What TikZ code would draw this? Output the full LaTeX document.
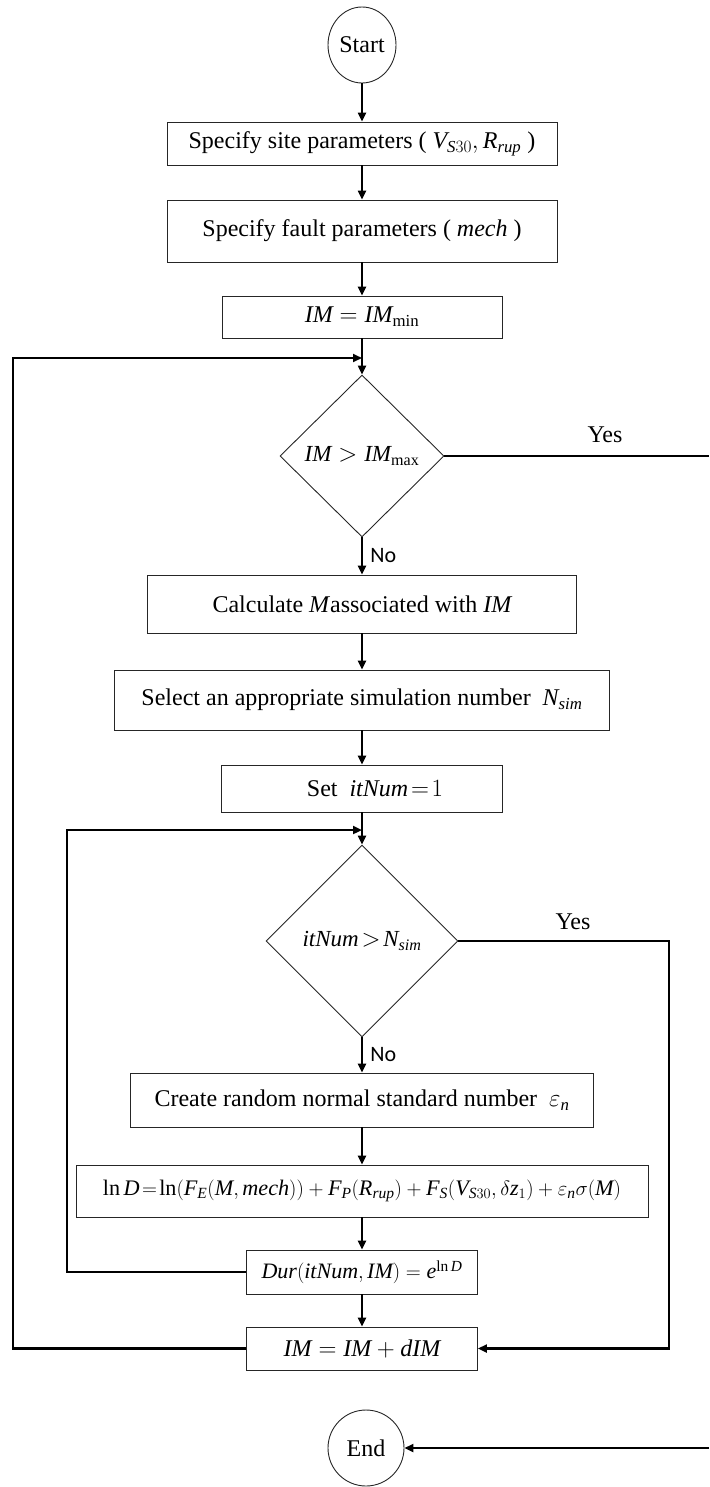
\documentclass[tikz,border=0pt]{standalone}
\usepackage{fontspec}
\setmainfont{Liberation Serif}
\newfontfamily\nofont{Carlito}
\usetikzlibrary{shapes.geometric,arrows.meta}
\begin{document}
\begin{tikzpicture}[x=1pt,y=-1pt,
  box/.style={draw=black!85, line width=0.9pt, inner sep=0pt, font=\fontsize{24}{27}\selectfont},
  dia/.style={diamond, draw=black!85, line width=0.9pt, inner sep=0pt, font=\fontsize{23}{26}\selectfont},
  term/.style={ellipse, draw=black!85, line width=0.9pt, inner sep=0pt, font=\fontsize{24}{27}\selectfont},
  conn/.style={line width=2.2pt},
  arr/.style={conn, -{Triangle[length=9pt,width=8pt]}},
  lbl/.style={font=\fontsize{24}{27}\selectfont},
  nolbl/.style={font=\nofont\fontsize{22}{24}\selectfont, right=4pt}
]
\useasboundingbox (0,0) rectangle (709,1487);
\node[term, minimum width=68pt, minimum height=76pt] (start) at (362,45) {Start};
\node[box, minimum width=390pt, minimum height=43pt] (site) at (362,143.5) {Specify site parameters ( $\mathit{V}_{\mathit{S}30},\mathit{R}_{\mathit{rup}}$ )};
\node[box, minimum width=390pt, minimum height=62pt] (fault) at (362,231) {Specify fault parameters ( $\mathit{mech}$ )};
\node[box, minimum width=280pt, minimum height=42pt] (imin) at (362,317) {$\mathit{IM} = \mathit{IM}_{\mathrm{min}}$};
\node[dia, minimum width=164pt, minimum height=162pt] (d1) at (362,456) {$\mathit{IM} > \mathit{IM}_{\mathrm{max}}$};
\node[box, minimum width=429pt, minimum height=58pt] (calc) at (362,604) {Calculate $\mathit{M}$\hspace{1pt}associated with $\mathit{IM}$};
\node[box, minimum width=495pt, minimum height=60pt] (sel) at (362,700) {Select an appropriate simulation number \ $\mathit{N}_{\mathit{sim}}$};
\node[box, minimum width=281pt, minimum height=47pt] (set) at (362,788.5) {\hspace{26pt}Set \ $\mathit{itNum}\!=\!1$};
\node[dia, minimum width=192pt, minimum height=192pt] (d2) at (362,941) {$\mathit{itNum}\!>\!\mathit{N}_{\mathit{sim}}$};
\node[box, minimum width=463pt, minimum height=54pt] (create) at (362,1100) {Create random normal standard number \ $\varepsilon_{\mathit{n}}$};
\node[box, minimum width=572pt, minimum height=52pt, font=\fontsize{22.2}{25}\selectfont] (lnd) at (362,1191) {$\ln \mathit{D}\!=\!\ln\Bigl(\mathit{F}_{\mathit{E}}\bigl(\mathit{M},\mathit{mech}\bigr)\Bigr)+\mathit{F}_{\mathit{P}}\bigl(\mathit{R}_{\mathit{rup}}\bigr)+\mathit{F}_{\mathit{S}}\bigl(\mathit{V}_{\mathit{S}30},\delta \mathit{z}_{1}\bigr)+\varepsilon_{\mathit{n}}\sigma\bigl(\mathit{M}\bigr)$};
\node[box, minimum width=231pt, minimum height=44pt, font=\fontsize{22}{25}\selectfont] (dur) at (362,1272) {$\mathit{Dur}\bigl(\mathit{itNum},\mathit{IM}\bigr)=\mathit{e}^{\ln \mathit{D}}$};
\node[box, minimum width=231pt, minimum height=43pt] (imd) at (362,1348.5) {$\mathit{IM}=\mathit{IM}+\mathit{dIM}$};
\node[term, minimum width=76pt, minimum height=76pt] (end) at (366,1448) {End};
\node[lbl] (yes1) at (605,435) {Yes};
\node[lbl] (yes2) at (573,922) {Yes};
\coordinate (r1) at (709,456);
\coordinate (r2) at (669,941);
\coordinate (r3) at (709,1448);
\coordinate (l1) at (13,358);
\coordinate (j1) at (362,358);
\coordinate (l2) at (67,830);
\coordinate (j2) at (362,830);
\draw[arr] (start) -- (site);
\draw[arr] (site) -- (fault);
\draw[arr] (fault) -- (imin);
\draw[arr] (imin) -- (d1);
\draw[arr] (d1) -- node[nolbl] (no1) {No} (calc);
\draw[arr] (calc) -- (sel);
\draw[arr] (sel) -- (set);
\draw[arr] (set) -- (d2);
\draw[arr] (d2) -- node[nolbl] (no2) {No} (create);
\draw[arr] (create) -- (lnd);
\draw[arr] (lnd) -- (dur);
\draw[arr] (dur) -- (imd);
\draw[conn] (d1.east) -- (r1);
\draw[arr] (d2.east) -- (r2) |- (imd.east);
\draw[arr] (imd.west) -| (l1) -- (j1);
\draw[arr] (dur.west) -| (l2) -- (j2);
\draw[arr] (r3) -- (end);
\end{tikzpicture}
\end{document}
